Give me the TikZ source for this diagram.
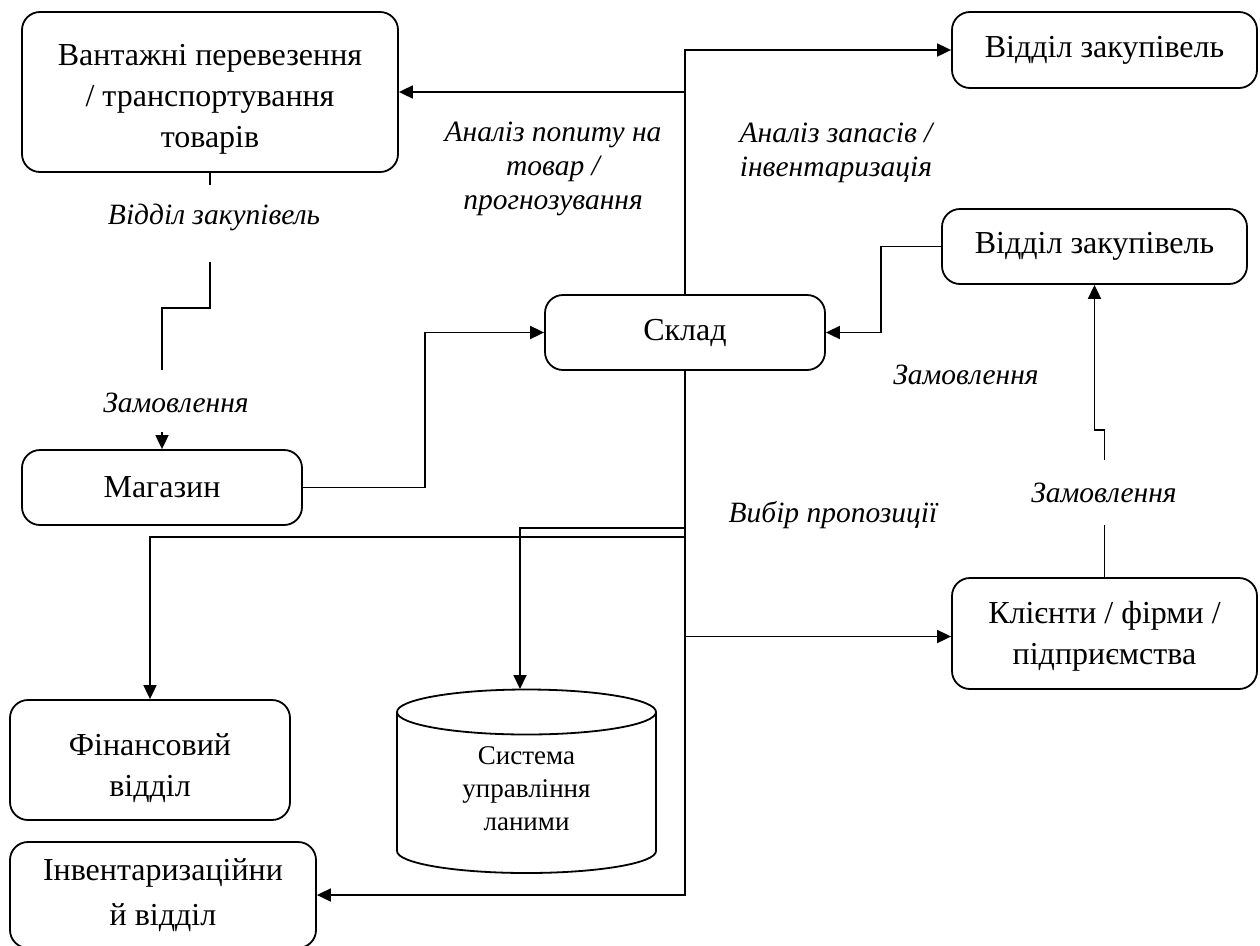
\documentclass[tikz,border=0pt]{standalone}
\usepackage{fontspec}
\setmainfont{Liberation Serif}
\usetikzlibrary{arrows.meta,calc}
\newcommand{\padtop}[1]{\rule{0pt}{#1}}
\begin{document}
\begin{tikzpicture}[x=1pt,y=-1pt,
  line width=1.8pt,
  box/.style={draw, rounded corners=18pt, align=center, inner sep=2pt,
    font=\fontsize{32}{41}\selectfont},
  lbl/.style={align=center, inner sep=0pt, font=\fontsize{29.5}{34}\selectfont\itshape},
  arr/.style={-{Triangle[length=14pt,width=13pt]}}]
\useasboundingbox (0,0) rectangle (1260,945);
% nodes
\node[box, minimum width=376pt, minimum height=160pt] (vant) at (210,92)
  {\padtop{35pt}Вантажні перевезення\\/ транспортування\\товарів};
\node[box, minimum width=305pt, minimum height=76pt] (zak1) at (1104.5,50) {Відділ закупівель};
\node[box, minimum width=305pt, minimum height=75pt] (zak2) at (1094.5,246.5) {Відділ закупівель};
\node[box, minimum width=280pt, minimum height=75pt] (sklad) at (685,332.5) {Склад};
\node[box, minimum width=280pt, minimum height=75pt] (mag) at (162,487.5) {Магазин};
\node[box, minimum width=305pt, minimum height=111pt] (client) at (1104.5,633.5) {\padtop{28pt}Клієнти / фірми /\\підприємства};
\node[box, minimum width=280pt, minimum height=120pt] (fin) at (150,760) {\padtop{39pt}Фінансовий\\відділ};
\node[box, minimum width=306pt, minimum height=106pt] (inv) at (163,895) {Інвентаризаційни\\[4pt]й відділ};
% cylinder (database)
\node[minimum width=259pt, minimum height=184pt, inner sep=0pt, align=center,
  font=\fontsize{27}{33}\selectfont] (db) at (526.5,789) {Система\\управління\\ланими};
\draw (397,712) -- (397,851) arc[start angle=180,end angle=360,x radius=129.5pt,y radius=22pt]
  -- (656,712) arc[start angle=0,end angle=360,x radius=129.5pt,y radius=22.5pt];
% labels
\node[lbl] (l1) at (553,169) {Аналіз попиту на\\товар /\\прогнозування};
\node[lbl] (l2) at (836,153) {Аналіз запасів /\\інвентаризація};
\node[lbl] (l3) at (966,375) {Замовлення};
\node[lbl] (l4) at (833,515) {Вибір пропозиції};
\node[lbl] (l5) at (214,217) {Відділ закупівель};
\node[lbl] (l6) at (176,403) {Замовлення};
\node[lbl] (l7) at (1104,493) {Замовлення};
% coordinates
\coordinate (mj) at (425,487.5);
\coordinate (tdb) at (685,528);
\coordinate (tfin) at (685,537);
\coordinate (dbin) at (520,689);
\coordinate (v1) at (210,185);
\coordinate (v2) at (210,262);
\coordinate (v3) at (162,370);
\coordinate (v4) at (162,432);
\coordinate (c1) at (1104.5,525);
\coordinate (c2) at (1104.5,460);
% connectors
\draw[arr] (sklad.north) |- (zak1.west);
\draw[arr] (sklad.north) |- (vant.east);
\draw[arr] (zak2.west) -- ++(-60,0) |- (sklad.east);
\draw[arr] (mag.east) -- (mj) |- (sklad.west);
\draw[arr] (sklad.south) |- (inv.east);
\draw[arr] (sklad.south) |- ($(client.west)+(0,3)$);
\draw[arr] (sklad.south) -- (tdb) -| (dbin);
\draw[arr] (sklad.south) -- (tfin) -| (fin.north);
\draw (vant.south) -- (v1);
\draw (v2) -- ++(0,46) -| (v3);
\draw[arr] (v4) -- (mag.north);
\draw (client.north) -- (c1);
\draw[arr] (c2) -- ++(0,-30) -| (zak2.south);
\end{tikzpicture}
\end{document}
